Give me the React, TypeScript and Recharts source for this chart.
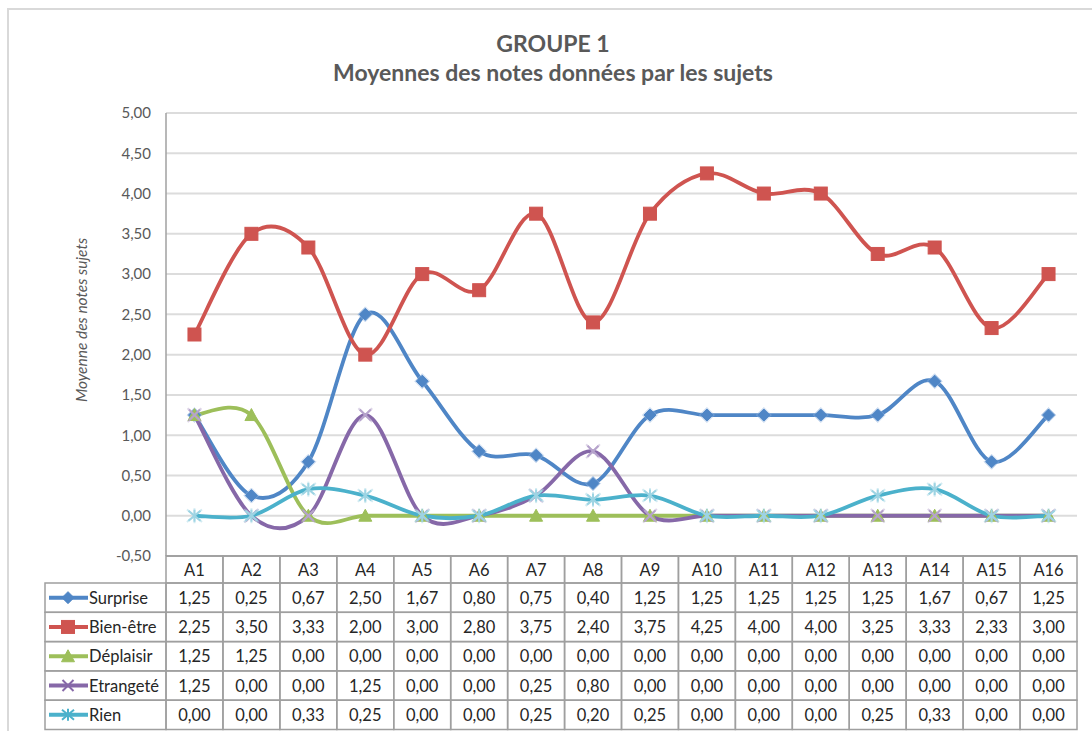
import React from 'react';
import { LineChart, Line, XAxis, YAxis, CartesianGrid, Customized } from 'recharts';

const categories = ['A1', 'A2', 'A3', 'A4', 'A5', 'A6', 'A7', 'A8', 'A9', 'A10', 'A11', 'A12', 'A13', 'A14', 'A15', 'A16'];
const surprise = [1.25, 0.25, 0.67, 2.5, 1.67, 0.8, 0.75, 0.4, 1.25, 1.25, 1.25, 1.25, 1.25, 1.67, 0.67, 1.25];
const bienEtre = [2.25, 3.5, 3.33, 2.0, 3.0, 2.8, 3.75, 2.4, 3.75, 4.25, 4.0, 4.0, 3.25, 3.33, 2.33, 3.0];
const deplaisir = [1.25, 1.25, 0, 0, 0, 0, 0, 0, 0, 0, 0, 0, 0, 0, 0, 0];
const etrangete = [1.25, 0, 0, 1.25, 0, 0, 0.25, 0.8, 0, 0, 0, 0, 0, 0, 0, 0];
const rien = [0, 0, 0.33, 0.25, 0, 0, 0.25, 0.2, 0.25, 0, 0, 0, 0.25, 0.33, 0, 0];
const yTicks = [-0.5, 0, 0.5, 1, 1.5, 2, 2.5, 3, 3.5, 4, 4.5, 5];

const titleLine1 = 'GROUPE 1';
const titleLine2 = 'Moyennes des notes données par les sujets';
const yAxisTitle = 'Moyenne des notes sujets';

type Shape = 'diamond' | 'square' | 'triangle' | 'x' | 'star';

const series: { key: string; name: string; values: number[]; color: string; light: string; shape: Shape }[] = [
  { key: 'surprise', name: 'Surprise', values: surprise, color: '#4F86C6', light: '#8fb3e0', shape: 'diamond' },
  { key: 'bienEtre', name: 'Bien-être', values: bienEtre, color: '#CF5450', light: '#e08a86', shape: 'square' },
  { key: 'deplaisir', name: 'Déplaisir', values: deplaisir, color: '#9DBF5A', light: '#c2d98f', shape: 'triangle' },
  { key: 'etrangete', name: 'Etrangeté', values: etrangete, color: '#8668A8', light: '#b6a3cc', shape: 'x' },
  { key: 'rien', name: 'Rien', values: rien, color: '#4BB1CB', light: '#9dd4e3', shape: 'star' },
];

const data = categories.map((c, i) => {
  const row: Record<string, number | string> = { name: c };
  series.forEach((s) => {
    row[s.key] = s.values[i];
  });
  return row;
});

const W = 1092;
const H = 731;
const PLOT_LEFT = 166;
const PLOT_RIGHT = 1077;
const PLOT_TOP = 113;
const PLOT_BOTTOM = 556;
const COL_W = (PLOT_RIGHT - PLOT_LEFT) / categories.length;
const HEADER_H = 27;
const ROW_H = 29.3;
const LEGEND_LEFT = 45;
const FONT = 'Lato, "Liberation Sans", sans-serif';
const GRID = '#9f9f9f';
const TABLE_FS = 16.5;

const fmt = (v: number) => v.toFixed(2).replace('.', ',');

// Excel-like smoothed line (Catmull-Rom style bezier)
const excelCurve: any = (context: any) => {
  let pts: number[][] = [];
  return {
    areaStart() {},
    areaEnd() {},
    lineStart() {
      pts = [];
    },
    point(x: number, y: number) {
      pts.push([+x, +y]);
    },
    lineEnd() {
      const n = pts.length;
      if (!n) return;
      context.moveTo(pts[0][0], pts[0][1]);
      for (let i = 0; i < n - 1; i++) {
        const p0 = pts[Math.max(i - 1, 0)];
        const p1 = pts[i];
        const p2 = pts[i + 1];
        const p3 = pts[Math.min(i + 2, n - 1)];
        context.bezierCurveTo(
          p1[0] + (p2[0] - p0[0]) / 6,
          p1[1] + (p2[1] - p0[1]) / 6,
          p2[0] - (p3[0] - p1[0]) / 6,
          p2[1] - (p3[1] - p1[1]) / 6,
          p2[0],
          p2[1]
        );
      }
    },
  };
};

function MarkerShape({ shape, cx, cy, color, stroke, scale = 1 }: { shape: Shape; cx: number; cy: number; color: string; stroke?: string; scale?: number }) {
  const s = scale;
  switch (shape) {
    case 'diamond':
      return (
        <polygon
          points={`${cx},${cy - 6 * s} ${cx + 6 * s},${cy} ${cx},${cy + 6 * s} ${cx - 6 * s},${cy}`}
          fill={color}
          stroke={stroke || color}
          strokeWidth={1}
        />
      );
    case 'square':
      return <rect x={cx - 6.5 * s} y={cy - 6.5 * s} width={13 * s} height={13 * s} fill={color} stroke={stroke || color} strokeWidth={1} />;
    case 'triangle':
      return (
        <polygon
          points={`${cx},${cy - 6.5 * s} ${cx + 6.5 * s},${cy + 5.5 * s} ${cx - 6.5 * s},${cy + 5.5 * s}`}
          fill={color}
          stroke={stroke || color}
          strokeWidth={1}
        />
      );
    case 'x':
      return (
        <g stroke={color} strokeWidth={2}>
          <line x1={cx - 5.5 * s} y1={cy - 5.5 * s} x2={cx + 5.5 * s} y2={cy + 5.5 * s} />
          <line x1={cx - 5.5 * s} y1={cy + 5.5 * s} x2={cx + 5.5 * s} y2={cy - 5.5 * s} />
        </g>
      );
    case 'star':
      return (
        <g stroke={color} strokeWidth={2}>
          <line x1={cx - 6 * s} y1={cy - 5 * s} x2={cx + 6 * s} y2={cy + 5 * s} />
          <line x1={cx - 6 * s} y1={cy + 5 * s} x2={cx + 6 * s} y2={cy - 5 * s} />
          <line x1={cx} y1={cy - 6 * s} x2={cx} y2={cy + 6 * s} />
        </g>
      );
  }
  return null;
}

const makeDot = (shape: Shape, color: string, light: string) => (props: any) => {
  const { cx, cy, index } = props;
  if (cx == null || cy == null) return <g key={`d-${index}`} />;
  return (
    <g key={`d-${shape}-${index}`}>
      {shape === 'diamond' || shape === 'x' || shape === 'star' ? (
        <g opacity={0.45}>
          <MarkerShape shape={shape} cx={cx} cy={cy} color={light} scale={1.25} />
        </g>
      ) : null}
      <MarkerShape shape={shape} cx={cx} cy={cy} color={shape === 'x' || shape === 'star' ? light : color} />
    </g>
  );
};

function TableTick(props: any) {
  const { x, y, payload, index } = props;
  const x0 = x - COL_W / 2;
  const top = y;
  const cells: React.ReactNode[] = [];
  cells.push(<rect key="h" x={x0} y={top} width={COL_W} height={HEADER_H} fill="none" stroke={GRID} strokeWidth={1.5} />);
  cells.push(
    <text key="ht" x={x} y={top + HEADER_H / 2 + 6} textAnchor="middle" fontSize={TABLE_FS} fill="#262626" fontFamily={FONT}>
      {payload.value}
    </text>
  );
  series.forEach((s, r) => {
    const ry = top + HEADER_H + r * ROW_H;
    cells.push(<rect key={`r${r}`} x={x0} y={ry} width={COL_W} height={ROW_H} fill="none" stroke={GRID} strokeWidth={1.5} />);
    cells.push(
      <text key={`t${r}`} x={x} y={ry + ROW_H / 2 + 6} textAnchor="middle" fontSize={TABLE_FS} fill="#262626" fontFamily={FONT}>
        {fmt(s.values[index])}
      </text>
    );
    if (index === 0) {
      const lw = x0 - LEGEND_LEFT;
      const cy = ry + ROW_H / 2;
      cells.push(<rect key={`l${r}`} x={LEGEND_LEFT} y={ry} width={lw} height={ROW_H} fill="none" stroke={GRID} strokeWidth={1.5} />);
      cells.push(<line key={`ll${r}`} x1={LEGEND_LEFT + 4} y1={cy} x2={LEGEND_LEFT + 43} y2={cy} stroke={s.color} strokeWidth={4} />);
      cells.push(
        <g key={`lm${r}`}>
          <MarkerShape shape={s.shape} cx={LEGEND_LEFT + 23} cy={cy} color={s.color} />
        </g>
      );
      cells.push(
        <text key={`lt${r}`} x={LEGEND_LEFT + 44} y={cy + 6} textAnchor="start" fontSize={TABLE_FS} fill="#262626" fontFamily={FONT}>
          {s.name}
        </text>
      );
    }
  });
  return <g>{cells}</g>;
}

function Titles() {
  return (
    <g fontFamily={FONT} fill="#595959">
      <text x={553} y={52} textAnchor="middle" fontSize={23} fontWeight="bold">
        {titleLine1}
      </text>
      <text x={553} y={81} textAnchor="middle" fontSize={23} fontWeight="bold">
        {titleLine2}
      </text>
      <text x={87} y={320} textAnchor="middle" fontSize={15.5} fontStyle="italic" transform="rotate(-90 87 320)">
        {yAxisTitle}
      </text>
    </g>
  );
}

export default function App() {
  return (
    <div style={{ position: 'absolute', left: 0, top: 0, width: W, height: H, overflow: 'hidden', background: '#fff' }}>
      <div
        style={{
          position: 'absolute',
          left: 7,
          top: 8,
          width: W + 20,
          height: H + 20,
          border: '2px solid #d9d9d9',
          boxSizing: 'border-box',
        }}
      />
      <div style={{ position: 'absolute', left: 0, top: 0 }}>
        <LineChart
          width={W}
          height={H}
          data={data}
          margin={{ top: PLOT_TOP, right: W - PLOT_RIGHT, bottom: 0, left: PLOT_LEFT - 60 }}
        >
          <CartesianGrid horizontal vertical={false} stroke="#dcdcdc" strokeWidth={2} />
          <XAxis
            dataKey="name"
            scale="band"
            interval={0}
            height={H - PLOT_BOTTOM}
            tickSize={0}
            tickMargin={0}
            tickLine={false}
            axisLine={{ stroke: GRID, strokeWidth: 1.5 }}
            tick={<TableTick />}
          />
          <YAxis
            width={60}
            domain={[-0.5, 5]}
            ticks={yTicks}
            interval={0}
            tickSize={0}
            tickMargin={15}
            tickLine={false}
            axisLine={{ stroke: '#a0a0a0', strokeWidth: 1.5 }}
            tickFormatter={fmt}
            tick={{ fontSize: 15, fill: '#595959', fontFamily: FONT }}
          />
          {series.map((s) => (
            <Line
              key={s.key}
              dataKey={s.key}
              name={s.name}
              type={excelCurve}
              stroke={s.color}
              strokeWidth={3.8}
              dot={makeDot(s.shape, s.color, s.light)}
              activeDot={false}
              isAnimationActive={false}
            />
          ))}
          <Customized component={Titles} />
        </LineChart>
      </div>
    </div>
  );
}
